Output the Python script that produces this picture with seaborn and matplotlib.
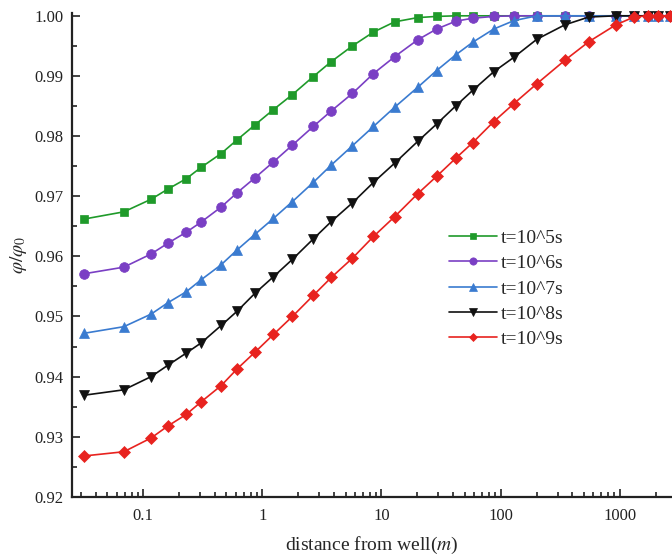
import numpy as np
import pandas as pd
import seaborn as sns
import matplotlib
matplotlib.use('Agg')
import matplotlib.pyplot as plt
import matplotlib.ticker as ticker

# distance from well (m), shared by all curves
distance = [0.032, 0.069, 0.117, 0.162, 0.23, 0.307, 0.452, 0.617, 0.873, 1.24,
            1.79, 2.68, 3.8, 5.71, 8.57, 12.9, 20.1, 29.0, 41.9, 58.2,
            87.4, 129, 201, 345, 549, 925, 1312, 1719, 2086, 2633]

t5 = [0.9662, 0.9674, 0.9695, 0.9712, 0.9729, 0.9748, 0.9771, 0.9794, 0.9819, 0.9844,
      0.9869, 0.9899, 0.9924, 0.9950, 0.9973, 0.9990, 0.9997, 0.9999, 1.0, 1.0,
      1.0, 1.0, 1.0, 1.0, 1.0, 1.0, 1.0, 1.0, 1.0, 1.0]
t6 = [0.9571, 0.9582, 0.9604, 0.9622, 0.9640, 0.9657, 0.9682, 0.9706, 0.9731, 0.9757,
      0.9785, 0.9816, 0.9842, 0.9871, 0.9904, 0.9932, 0.9960, 0.9978, 0.9991, 0.9996,
      0.9999, 1.0, 1.0, 1.0, 1.0, 1.0, 1.0, 1.0, 1.0, 1.0]
t7 = [0.9472, 0.9483, 0.9504, 0.9523, 0.9541, 0.9561, 0.9586, 0.9611, 0.9637, 0.9663,
      0.9691, 0.9723, 0.9752, 0.9784, 0.9816, 0.9848, 0.9881, 0.9909, 0.9935, 0.9956,
      0.9978, 0.9992, 1.0, 1.0, 1.0, 1.0, 1.0, 1.0, 1.0, 1.0]
t8 = [0.9369, 0.9378, 0.9400, 0.9419, 0.9439, 0.9456, 0.9485, 0.9509, 0.9539, 0.9566,
      0.9595, 0.9629, 0.9658, 0.9689, 0.9723, 0.9755, 0.9791, 0.9820, 0.9850, 0.9876,
      0.9907, 0.9931, 0.9961, 0.9985, 0.9998, 1.0, 1.0, 1.0, 1.0, 1.0]
t9 = [0.9268, 0.9275, 0.9298, 0.9318, 0.9337, 0.9358, 0.9385, 0.9413, 0.9441, 0.9470,
      0.9500, 0.9535, 0.9565, 0.9597, 0.9633, 0.9666, 0.9704, 0.9733, 0.9763, 0.9789,
      0.9824, 0.9854, 0.9887, 0.9926, 0.9957, 0.9985, 0.9998, 1.0, 1.0, 1.0]

labels = ['t=10^5s', 't=10^6s', 't=10^7s', 't=10^8s', 't=10^9s']
series = [t5, t6, t7, t8, t9]
colors = ['#1f9a2a', '#7a3fc4', '#3a7bd0', '#111111', '#e8231f']
markers = ['s', 'o', '^', 'v', 'D']
msizes = [6, 7, 7, 7, 6]

sns.set_style('ticks')
plt.rcParams['font.family'] = ['Liberation Serif', 'DejaVu Serif']
plt.rcParams['mathtext.fontset'] = 'stix'

fig = plt.figure(figsize=(6.72, 5.57), dpi=100)
ax = fig.add_axes([0.107, 0.108, 0.893, 0.869])

for lab, vals, c, m, ms in zip(labels, series, colors, markers, msizes):
    df = pd.DataFrame({'distance': distance, 'ratio': vals})
    sns.lineplot(data=df, x='distance', y='ratio', ax=ax, color=c, marker=m,
                 markersize=ms, markeredgecolor=c, markeredgewidth=0.5,
                 linewidth=1.2, label=lab, estimator=None, sort=False,
                 clip_on=False)

ax.set_xscale('log')
ax.set_xlim(0.0253, 2735)
ax.set_ylim(0.92, 1.0005)

ax.set_yticks([0.92, 0.93, 0.94, 0.95, 0.96, 0.97, 0.98, 0.99, 1.00])
ax.yaxis.set_minor_locator(ticker.MultipleLocator(0.005))
ax.yaxis.set_major_formatter(ticker.FormatStrFormatter('%.2f'))

ax.xaxis.set_major_locator(ticker.FixedLocator([0.1, 1, 10, 100, 1000]))
ax.xaxis.set_major_formatter(ticker.FixedFormatter(['0.1', '1', '10', '100', '1000']))
ax.xaxis.set_minor_locator(ticker.LogLocator(base=10, subs=np.arange(2, 10), numticks=20))
ax.xaxis.set_minor_formatter(ticker.NullFormatter())

ax.tick_params(which='both', direction='in', width=1.2, labelsize=12, colors='#222222')
ax.tick_params(which='major', length=6)
ax.tick_params(which='minor', length=3.5)
ax.tick_params(axis='x', pad=8)
ax.tick_params(axis='y', pad=6)

for side in ['top', 'right']:
    ax.spines[side].set_visible(False)
for side in ['left', 'bottom']:
    ax.spines[side].set_linewidth(1.6)
    ax.spines[side].set_color('#222222')

ax.set_xlabel('distance from well($\\mathit{m}$)', fontsize=14, labelpad=8)
ax.set_ylabel('$\\varphi/\\varphi_0$', fontsize=14, labelpad=4)

ax.legend(loc='center left', bbox_to_anchor=(0.615, 0.43), frameon=False,
          fontsize=14, handlelength=2.5, handletextpad=0.2, labelspacing=0.4,
          markerscale=0.75, borderaxespad=0)

plt.savefig('out.png', dpi=100)
